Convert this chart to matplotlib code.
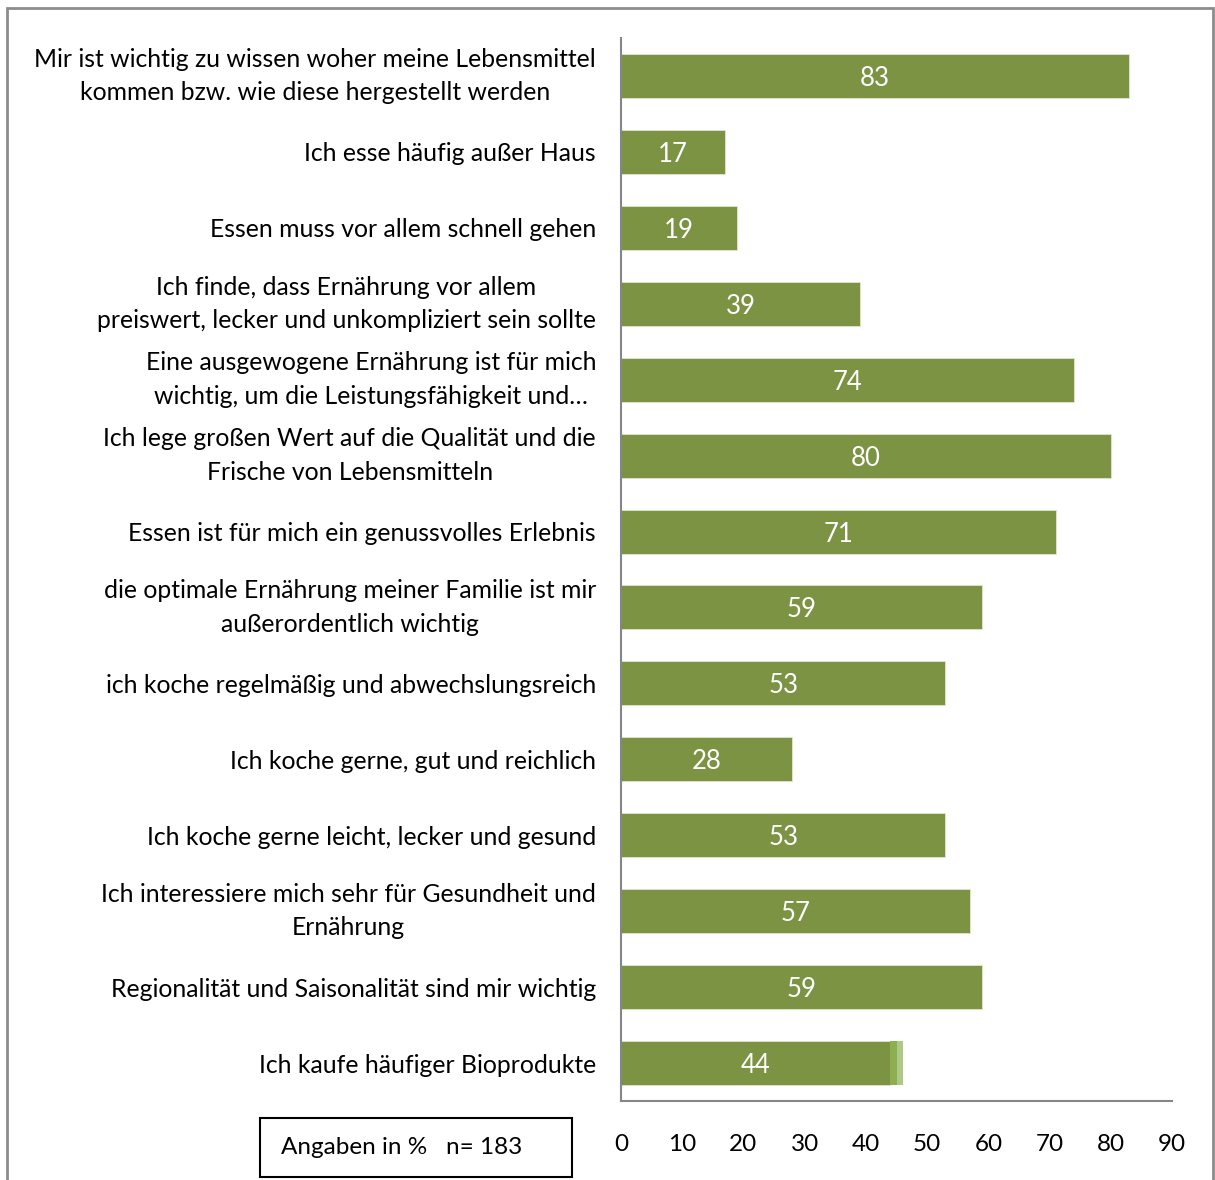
import matplotlib.pyplot as plt
from matplotlib.patches import Rectangle

labels = [
    'Mir ist wichtig zu wissen woher meine Lebensmittel\nkommen bzw. wie diese hergestellt werden',
    'Ich esse häufig außer Haus',
    'Essen muss vor allem schnell gehen',
    'Ich finde, dass Ernährung vor allem\npreiswert, lecker und unkompliziert sein sollte',
    'Eine ausgewogene Ernährung ist für mich\nwichtig, um die Leistungsfähigkeit und…',
    'Ich lege großen Wert auf die Qualität und die\nFrische von Lebensmitteln',
    'Essen ist für mich ein genussvolles Erlebnis',
    'die optimale Ernährung meiner Familie ist mir\naußerordentlich wichtig',
    'ich koche regelmäßig und abwechslungsreich',
    'Ich koche gerne, gut und reichlich',
    'Ich koche gerne leicht, lecker und gesund',
    'Ich interessiere mich sehr für Gesundheit und\nErnährung',
    'Regionalität und Saisonalität sind mir wichtig',
    'Ich kaufe häufiger Bioprodukte',
]
values = [83, 17, 19, 39, 74, 80, 71, 59, 53, 28, 53, 57, 59, 44]
# kleine Zusatzsegmente nur beim letzten Balken
extra1 = [0, 0, 0, 0, 0, 0, 0, 0, 0, 0, 0, 0, 0, 1]
extra2 = [0, 0, 0, 0, 0, 0, 0, 0, 0, 0, 0, 0, 0, 1]
xticks = [0, 10, 20, 30, 40, 50, 60, 70, 80, 90]

plt.rcParams['font.family'] = ['Lato', 'DejaVu Sans']

fig = plt.figure(figsize=(12.15, 11.8), dpi=100)
ax = fig.add_axes([621/1215, 1 - 1101/1180, 551/1215, (1101 - 38)/1180])

y = list(range(len(labels)))
c1, c2, c3 = '#7b9343', '#8fae4f', '#adc988'
ax.barh(y, values, height=0.58, color=c1, edgecolor='#dfe7cf', linewidth=0.6)
left2 = [v for v in values]
ax.barh(y, extra1, left=left2, height=0.58, color=c2, linewidth=0)
left3 = [v + e for v, e in zip(values, extra1)]
ax.barh(y, extra2, left=left3, height=0.58, color=c3, linewidth=0)

for yi, v in zip(y, values):
    ax.text(v / 2, yi, str(v), ha='center', va='center_baseline', color='white', fontsize=18.5)

ax.set_xlim(0, 90)
ax.set_ylim(13.5, -0.5)
ax.set_xticks(xticks)
ax.set_xticklabels([str(t) for t in xticks], fontsize=17.5)
ax.set_yticks(y)
ax.set_yticklabels(labels, fontsize=17.8)
for t in ax.get_yticklabels():
    t.set_multialignment('center')
    t.set_linespacing(1.55)
    if '\n' in t.get_text():
        t.set_va('center')
ax.tick_params(axis='y', length=0, pad=18)
ax.tick_params(axis='x', length=0, pad=24)

for s in ['top', 'right']:
    ax.spines[s].set_visible(False)
for s in ['left', 'bottom']:
    ax.spines[s].set_color('#868686')
    ax.spines[s].set_linewidth(1.5)

# Hinweisbox
fig.text(281/1215, 1 - 1147/1180, 'Angaben in %   n= 183', fontsize=17.5, va='center', ha='left')
fig.add_artist(Rectangle((260/1215, 1 - 1177/1180), 312/1215, 59/1180,
                         transform=fig.transFigure, fill=False, edgecolor='black', linewidth=1.5))

# Rahmen um das Diagramm
fig.add_artist(Rectangle((7/1215, -0.05), 1206/1215, 1.05 - 8/1180,
                         transform=fig.transFigure, fill=False, edgecolor='#8c8c8c', linewidth=2))

fig.savefig('out.png', dpi=100)
